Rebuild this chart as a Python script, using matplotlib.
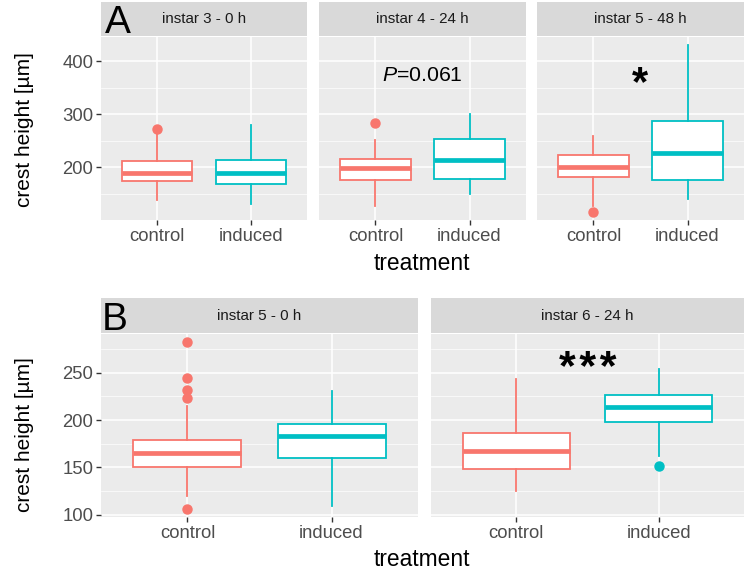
import numpy as np
import matplotlib
matplotlib.use("Agg")
import matplotlib.pyplot as plt
from matplotlib.ticker import FixedLocator

plt.rcParams['font.family'] = ['Liberation Sans', 'DejaVu Sans']
plt.rcParams['mathtext.fontset'] = 'custom'
plt.rcParams['mathtext.rm'] = 'Liberation Sans'
plt.rcParams['mathtext.it'] = 'Liberation Sans:italic'

#data (crest height in um)
groups = ["control", "induced"]
colors = ["#F8766D", "#00BFC4"]

facets_a = ["instar 3 - 0 h", "instar 4 - 24 h", "instar 5 - 48 h"]
a_whislo = [[138, 131], [127, 149], [128, 141]]
a_q1 = [[175, 169], [176, 179], [182, 177]]
a_med = [[189.5, 189], [198, 213], [200, 227.5]]
a_q3 = [[212.5, 214], [216, 254], [222.5, 288]]
a_whishi = [[262, 280], [252, 300], [259, 430]]
a_fliers = [[[272.5], []], [[284], []], [[116.5], []]]
a_notes = ["", "$\\it{P}$=0.061", "*"]

facets_b = ["instar 5 - 0 h", "instar 6 - 24 h"]
b_whislo = [[120, 109], [125, 161.5]]
b_q1 = [[150, 159.7], [148, 198]]
b_med = [[165.7, 183], [167.4, 214]]
b_q3 = [[179.3, 196], [186.6, 226.3]]
b_whishi = [[214.4, 231], [243, 253.5]]
b_fliers = [[[282, 244.8, 231.6, 223.2, 106.4], []], [[], [151]]]
b_notes = ["", "*\u200a*\u200a*"]

W, H = 749, 570
fig = plt.figure(figsize=(W / 100, H / 100), dpi=100)

def rect(l, t, r, b):
    return [l / W, 1 - b / H, (r - l) / W, (b - t) / H]

def draw_row(facets, whislo, q1, med, q3, whishi, fliers, notes, xs, top, bottom, strip_top,
             major, minor, note_y, note_size):
    #shared y range with ggplot style 5% expansion
    pts = [v for f in fliers for g in f for v in g]
    lo = min([min(w) for w in whislo] + pts)
    hi = max([max(w) for w in whishi] + pts)
    pad = 0.05 * (hi - lo)
    axes = []
    for i, name in enumerate(facets):
        l, r = xs[i]
        ax = fig.add_axes(rect(l, top, r, bottom))
        ax.set_facecolor("#EBEBEB")
        for s in ax.spines.values():
            s.set_visible(False)
        for j, g in enumerate(groups):
            st = dict(med=med[i][j], q1=q1[i][j], q3=q3[i][j], whislo=whislo[i][j],
                      whishi=whishi[i][j], fliers=fliers[i][j])
            c = colors[j]
            ax.bxp([st], positions=[j + 1], widths=0.75, patch_artist=True, showcaps=False,
                   boxprops=dict(facecolor="white", edgecolor=c, linewidth=1.3),
                   medianprops=dict(color=c, linewidth=3.4, solid_capstyle="butt"),
                   whiskerprops=dict(color=c, linewidth=1.3),
                   flierprops=dict(marker="o", markerfacecolor=c, markeredgecolor=c, markersize=6.5))
        ax.set_xlim(0.4, 2.6)
        ax.set_ylim(lo - pad, hi + pad)
        ax.set_xticks([1, 2])
        ax.set_xticklabels(groups)
        ax.yaxis.set_major_locator(FixedLocator(major))
        ax.yaxis.set_minor_locator(FixedLocator(minor))
        ax.set_axisbelow(True)
        ax.grid(which="major", color="white", linewidth=1.1)
        ax.grid(which="minor", axis="y", color="white", linewidth=0.5)
        ax.tick_params(axis="both", which="major", length=3.5, width=1.0, color="#333333",
                       labelsize=13.3, labelcolor="#4D4D4D", pad=2)
        ax.tick_params(axis="y", which="minor", length=0)
        if i > 0:
            ax.tick_params(axis="y", which="major", length=0, labelleft=False)
        if notes[i]:
            bold = "bold" if "*" in notes[i] else "normal"
            ax.text(1.5, note_y[i], notes[i], ha="center", va="center", fontsize=note_size[i],
                    fontweight=bold, color="black")
        #facet strip
        sax = fig.add_axes(rect(l, strip_top, r, top - 1))
        sax.set_facecolor("#D9D9D9")
        sax.set_xticks([])
        sax.set_yticks([])
        for s in sax.spines.values():
            s.set_visible(False)
        sax.text(0.5, 0.5, name, ha="center", va="center", fontsize=10.9, color="#1A1A1A",
                 transform=sax.transAxes)
        axes.append(ax)
    return axes

#panel A
draw_row(facets_a, a_whislo, a_q1, a_med, a_q3, a_whishi, a_fliers, a_notes,
         [(101, 307), (319, 526), (537, 744)], 37, 220, 2,
         [200, 300, 400], [150, 250, 350], [0, 373, 357], [0, 15.3, 30])
#panel B
draw_row(facets_b, b_whislo, b_q1, b_med, b_q3, b_whishi, b_fliers, b_notes,
         [(101, 418), (431, 744)], 334, 517, 298,
         [100, 150, 200, 250], [125, 175, 225, 275], [0, 253.5], [0, 31])

#axis titles and panel letters
fig.text(25 / W, 1 - 130 / H, "crest height [µm]", rotation=90, ha="center", va="center", fontsize=15)
fig.text(25 / W, 1 - 435 / H, "crest height [µm]", rotation=90, ha="center", va="center", fontsize=15)
fig.text(422 / W, 1 - 263 / H, "treatment", ha="center", va="center", fontsize=16.4)
fig.text(422 / W, 1 - 559 / H, "treatment", ha="center", va="center", fontsize=16.4)
fig.text(105 / W, 1 - 33 / H, "A", ha="left", va="baseline", fontsize=28)
fig.text(102 / W, 1 - 330 / H, "B", ha="left", va="baseline", fontsize=28)

plt.savefig("out.png", dpi=100)
